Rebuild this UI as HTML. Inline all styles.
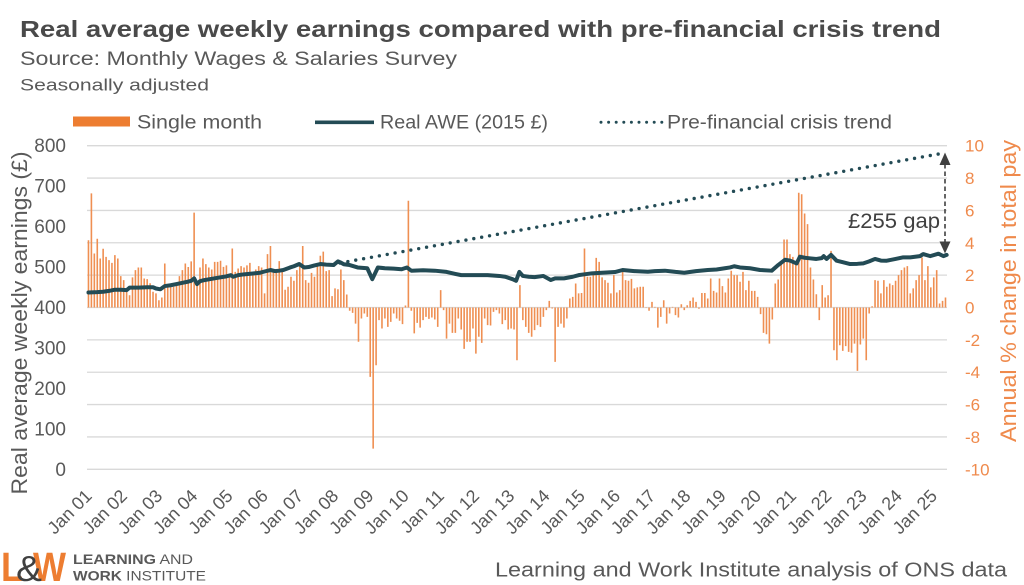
<!DOCTYPE html>
<html><head><meta charset="utf-8"><style>
html,body{margin:0;padding:0;background:#fff;}
svg{display:block;}
text{font-family:"Liberation Sans",sans-serif;}
</style></head><body>
<svg width="1024" height="585" viewBox="0 0 1024 585" xmlns="http://www.w3.org/2000/svg">
<rect width="1024" height="585" fill="#fff"/>
<!-- Titles -->
<text x="20" y="37" font-size="23" font-weight="bold" fill="#4a4a4a" textLength="921" lengthAdjust="spacingAndGlyphs">Real average weekly earnings compared with pre-financial crisis trend</text>
<text x="20" y="65" font-size="19" fill="#595959" textLength="437" lengthAdjust="spacingAndGlyphs">Source: Monthly Wages &amp; Salaries Survey</text>
<text x="20" y="90.5" font-size="17" fill="#595959" textLength="189" lengthAdjust="spacingAndGlyphs">Seasonally adjusted</text>

<!-- Legend -->
<rect x="73" y="116.5" width="57" height="10" fill="#ED7D31"/>
<text x="137" y="128.5" font-size="19" fill="#595959" textLength="125" lengthAdjust="spacingAndGlyphs">Single month</text>
<line x1="315" y1="122.3" x2="374" y2="122.3" stroke="#234B55" stroke-width="3.6"/>
<text x="380" y="128.5" font-size="19" fill="#595959" textLength="168" lengthAdjust="spacingAndGlyphs">Real AWE (2015 £)</text>
<line x1="601" y1="122.3" x2="662" y2="122.3" stroke="#234B55" stroke-width="3" stroke-dasharray="0 7.6" stroke-linecap="round"/>
<text x="667" y="128.5" font-size="19" fill="#595959" textLength="225" lengthAdjust="spacingAndGlyphs">Pre-financial crisis trend</text>

<!-- Gridlines -->
<g stroke="#D9D9D9" stroke-width="1.3">
<line x1="87" x2="947" y1="145.7" y2="145.7"/>
<line x1="87" x2="947" y1="178.06" y2="178.06"/>
<line x1="87" x2="947" y1="210.42" y2="210.42"/>
<line x1="87" x2="947" y1="242.78" y2="242.78"/>
<line x1="87" x2="947" y1="275.14" y2="275.14"/>
<line x1="87" x2="947" y1="307.5" y2="307.5"/>
<line x1="87" x2="947" y1="339.86" y2="339.86"/>
<line x1="87" x2="947" y1="372.22" y2="372.22"/>
<line x1="87" x2="947" y1="404.58" y2="404.58"/>
<line x1="87" x2="947" y1="436.94" y2="436.94"/>
<line x1="87" x2="947" y1="469.3" y2="469.3"/>
</g>

<!-- Bars -->
<g transform="translate(88.4675,307.5) scale(2.935,-16.18)">
<path fill="none" stroke="#EF8F52" stroke-width="1.6" vector-effect="non-scaling-stroke" d="M0 0V4.16M1 0V7.05M2 0V3.34M3 0V4.25M4 0V3.03M5 0V3.63M6 0V3.13M7 0V2.93M8 0V2.76M9 0V3.24M10 0V3.03M11 0V1.94M12 0V1.69M13 0V1.18M14 0V0.76M15 0V1.86M16 0V2.31M17 0V2.47M18 0V2.47M19 0V1.79M20 0V1.75M21 0V1.5M22 0V0.97M23 0V0.87M24 0V0.45M25 0V0.62M26 0V2.72M27 0V1.24M28 0V1.32M29 0V1.28M30 0V1.48M31 0V1.94M32 0V2.31M33 0V2.72M34 0V2.5M35 0V2.85M36 0V5.86M37 0V1.48M38 0V2.47M39 0V3.03M40 0V2.68M41 0V2.47M42 0V2.35M43 0V2.82M44 0V2.82M45 0V2.89M46 0V2.51M47 0V2.6M48 0V2.1M49 0V3.65M50 0V2.2M51 0V2.41M52 0V2.56M53 0V2.47M54 0V2.6M55 0V2.76M56 0V2.2M57 0V2.35M58 0V2.56M59 0V2.47M60 0V0.87M61 0V3.3M62 0V3.8M63 0V2.35M64 0V2.14M65 0V2.87M66 0V2.31M67 0V1.1M68 0V1.28M69 0V1.9M70 0V1.65M71 0V2.31M72 0V2.72M73 0V3.8M74 0V1.69M75 0V1.53M76 0V2.14M77 0V1.9M78 0V2.6M79 0V3.2M80 0V3.45M81 0V2.25M82 0V2.31M83 0V0.7M84 0V1.18M85 0V1.13M86 0V2.35M87 0V1.69M88 0V0.8M89 0V-0.2M90 0V-0.33M91 0V-1M92 0V-2.12M93 0V-0.68M94 0V-0.37M95 0V-0.58M96 0V-4.29M97 0V-8.72M98 0V-3.57M99 0V-0.78M100 0V-1.3M101 0V-0.68M102 0V-1.2M103 0V-0.89M104 0V-0.37M105 0V-0.68M106 0V-0.82M107 0V-1.03M108 0V0.12M109 0V6.6M110 0V-0.2M111 0V-1.6M112 0V-0.95M113 0V-1.24M114 0V-0.78M115 0V-0.58M116 0V-0.7M117 0V-0.62M118 0V-0.74M119 0V-1.2M120 0V1.07M121 0V-0.16M122 0V-1.92M123 0V-1M124 0V-1.57M125 0V-1.57M126 0V-0.68M127 0V-1.36M128 0V-2.56M129 0V-2.12M130 0V-2.12M131 0V-1.3M132 0V-2.85M133 0V-1.81M134 0V-2.19M135 0V-0.68M136 0V-1.09M137 0V-1.11M138 0V-0.27M139 0V-0.16M140 0V-0.37M141 0V-1.03M142 0V-0.78M143 0V-1.36M144 0V-1.3M145 0V-1.36M146 0V-3.26M147 0V1.38M148 0V-0.78M149 0V-1.2M150 0V-1.57M151 0V-1.81M152 0V-1.4M153 0V-1.09M154 0V-1.2M155 0V-0.58M156 0V-0.16M157 0V0.41M158 0V-0.06M159 0V-3.36M160 0V-1.2M161 0V-1M162 0V-1.24M163 0V-0.68M164 0V0.56M165 0V0.66M166 0V1.48M167 0V0.87M168 0V0.9M169 0V3.65M170 0V1.9M171 0V1.9M172 0V2.1M173 0V3.07M174 0V2.82M175 0V1.86M176 0V1.69M177 0V1.53M178 0V0.87M179 0V2M180 0V0.93M181 0V1.07M182 0V2.27M183 0V1.69M184 0V1.65M185 0V1.77M186 0V1.18M187 0V1.24M188 0V1.28M189 0V1.28M190 0V0.02M191 0V-0.2M192 0V0.35M193 0V0.04M194 0V-1.24M195 0V-0.58M196 0V0.45M197 0V-1M198 0V-0.37M199 0V0.04M200 0V-0.47M201 0V-0.62M202 0V0.2M203 0V-0.16M204 0V0.14M205 0V0.41M206 0V0.62M207 0V0.35M208 0V-0.08M209 0V0.9M210 0V0.9M211 0V0.56M212 0V1.79M213 0V1.03M214 0V0.93M215 0V1.79M216 0V1.32M217 0V0.93M218 0V1.79M219 0V2.27M220 0V2M221 0V2M222 0V1.59M223 0V2.2M224 0V1.07M225 0V1.65M226 0V1.03M227 0V1.03M228 0V0.66M229 0V-0.41M230 0V-1.57M231 0V-1.65M232 0V-2.23M233 0V-0.74M234 0V1.48M235 0V1.73M236 0V2.82M237 0V4.2M238 0V4.2M239 0V3.3M240 0V3.13M241 0V2.82M242 0V7.09M243 0V7M244 0V5.81M245 0V5.15M246 0V2.47M247 0V1.73M248 0V0.82M249 0V-0.78M250 0V1.38M251 0V0.62M252 0V0.76M253 0V3.5M254 0V-2.64M255 0V-3.26M256 0V-2.33M257 0V-2.68M258 0V-2.39M259 0V-2.74M260 0V-2.8M261 0V-2.23M262 0V-3.92M263 0V-2.29M264 0V-1.92M265 0V-3.26M266 0V-0.37M267 0V0.08M268 0V1.69M269 0V1.65M270 0V0.87M271 0V1.69M272 0V1.28M273 0V1.48M274 0V1.38M275 0V1.65M276 0V2M277 0V2.31M278 0V2.47M279 0V2.56M280 0V0.87M281 0V1.18M282 0V1.69M283 0V2M284 0V3.09M285 0V1.69M286 0V2.56M287 0V1.24M288 0V1.86M289 0V2.31M290 0V0.25M291 0V0.41M292 0V0.62"/>
</g>

<!-- Trend dotted line -->
<line x1="340" y1="263" x2="944" y2="153" stroke="#234B55" stroke-width="3.4" stroke-dasharray="0 8" stroke-linecap="round"/>

<!-- Real AWE line -->
<g transform="translate(88.4675,469.3) scale(2.935,-0.4045)">
<polyline fill="none" stroke="#234B55" stroke-width="4" stroke-linejoin="round" stroke-linecap="round" vector-effect="non-scaling-stroke" points="0,437 3,438 5,439 7,441 9,444 11,444 13,443 14,449 17,449 20,450 22,450 23,447 24.5,445 26,453 28,455 30,458 32,461 34,464 35,466 36,472 37,458 38,465 39,467 42,471 45,474.6 47,477 48.5,480 49.3,476 51,480 53,482 56,484 58.5,486 60,489 62,492.7 63.5,490 65,491 66.4,492.7 68.7,499 70,502 71.8,507.5 73.5,499 75,500 77,504 79,507.5 81,506 83.5,505 85,514 86,511 87,507 89,505 91.7,499 95,497 96.7,470 98.6,499 101,497 104,496 106.7,494.5 108.5,499 110,491 114,492 118,491 122,488 125,483 127,480 131,480 136,480 140,478 142,476 144.5,470 145.7,466 146.8,488 148,478 150,476 152,475 155,478 157.5,468 159,472 162,472 165,476 167,480 169,482 171.5,484.5 175,486 179.4,487.7 182,492.7 186,490 190.6,488.5 193,490 196.4,491 200,488 203,486 207,490 211,492.7 214,494 216.8,497 218.6,499 220,502 222,499 225.4,497 228.8,492.7 232.8,491 235,505 237.3,518 239,516 240,513 241.3,509 242.4,525.6 244,523 245.8,521.6 248,520 249.8,522 250.5,527 251.5,520 253,530 254.9,515.7 257,512 259.5,507.5 262,508 264,509 266,514 268,520 270,516 272,515.7 275,520 277.6,524 280,524 283.3,527 284.4,532 286.8,527 289.6,533 291.3,527 292.4,530"/>
</g>

<!-- Gap arrow -->
<line x1="945" y1="164" x2="945" y2="242" stroke="#404040" stroke-width="1.6" stroke-dasharray="4.5 3"/>
<polygon points="945,152.5 939.5,165 950.5,165" fill="#404040"/>
<polygon points="945,253.5 939.5,241.5 950.5,241.5" fill="#404040"/>
<text x="848" y="228" font-size="21" fill="#404040" textLength="92" lengthAdjust="spacingAndGlyphs">£255 gap</text>

<!-- Left axis labels -->
<g font-size="19" fill="#595959" text-anchor="end">
<text x="66" y="152.2">800</text>
<text x="66" y="192.65">700</text>
<text x="66" y="233.1">600</text>
<text x="66" y="273.55">500</text>
<text x="66" y="314">400</text>
<text x="66" y="354.45">300</text>
<text x="66" y="394.9">200</text>
<text x="66" y="435.35">100</text>
<text x="66" y="475.8">0</text>
</g>
<text transform="translate(27,323) rotate(-90)" text-anchor="middle" font-size="22" fill="#595959" textLength="343" lengthAdjust="spacingAndGlyphs">Real average weekly earnings (£)</text>

<!-- Right axis labels -->
<g font-size="17" fill="#EF8A4C">
<text x="965" y="151.7">10</text>
<text x="965" y="184.06">8</text>
<text x="965" y="216.42">6</text>
<text x="965" y="248.78">4</text>
<text x="965" y="281.14">2</text>
<text x="965" y="313.5">0</text>
<text x="965" y="345.86">-2</text>
<text x="965" y="378.22">-4</text>
<text x="965" y="410.58">-6</text>
<text x="965" y="442.94">-8</text>
<text x="965" y="475.3">-10</text>
</g>
<text transform="translate(1016,291) rotate(-90)" text-anchor="middle" font-size="22" fill="#EF8A4C" textLength="302" lengthAdjust="spacingAndGlyphs">Annual % change in total pay</text>

<!-- X axis labels -->
<g font-size="18" fill="#595959" text-anchor="end">
<text transform="translate(92.97,497) rotate(-45)">Jan 01</text>
<text transform="translate(128.19,497) rotate(-45)">Jan 02</text>
<text transform="translate(163.41,497) rotate(-45)">Jan 03</text>
<text transform="translate(198.63,497) rotate(-45)">Jan 04</text>
<text transform="translate(233.85,497) rotate(-45)">Jan 05</text>
<text transform="translate(269.07,497) rotate(-45)">Jan 06</text>
<text transform="translate(304.29,497) rotate(-45)">Jan 07</text>
<text transform="translate(339.51,497) rotate(-45)">Jan 08</text>
<text transform="translate(374.73,497) rotate(-45)">Jan 09</text>
<text transform="translate(409.95,497) rotate(-45)">Jan 10</text>
<text transform="translate(445.17,497) rotate(-45)">Jan 11</text>
<text transform="translate(480.39,497) rotate(-45)">Jan 12</text>
<text transform="translate(515.61,497) rotate(-45)">Jan 13</text>
<text transform="translate(550.83,497) rotate(-45)">Jan 14</text>
<text transform="translate(586.05,497) rotate(-45)">Jan 15</text>
<text transform="translate(621.27,497) rotate(-45)">Jan 16</text>
<text transform="translate(656.49,497) rotate(-45)">Jan 17</text>
<text transform="translate(691.71,497) rotate(-45)">Jan 18</text>
<text transform="translate(726.93,497) rotate(-45)">Jan 19</text>
<text transform="translate(762.15,497) rotate(-45)">Jan 20</text>
<text transform="translate(797.37,497) rotate(-45)">Jan 21</text>
<text transform="translate(832.59,497) rotate(-45)">Jan 22</text>
<text transform="translate(867.81,497) rotate(-45)">Jan 23</text>
<text transform="translate(903.03,497) rotate(-45)">Jan 24</text>
<text transform="translate(938.25,497) rotate(-45)">Jan 25</text>
</g>

<!-- Logo -->
<text x="1" y="581" font-size="41" font-weight="bold" fill="#ED7D31" textLength="22" lengthAdjust="spacingAndGlyphs">L</text>
<text x="33" y="581" font-size="41" font-weight="bold" fill="#ED7D31" textLength="33" lengthAdjust="spacingAndGlyphs">W</text>
<text x="16" y="581" font-size="36" fill="#404040" textLength="26" lengthAdjust="spacingAndGlyphs">&amp;</text>
<text x="73" y="564" font-size="14" fill="#595959" textLength="120" lengthAdjust="spacingAndGlyphs"><tspan font-weight="bold">LEARNING</tspan> AND</text>
<text x="73" y="580.5" font-size="14" fill="#595959" textLength="133" lengthAdjust="spacingAndGlyphs"><tspan font-weight="bold">WORK</tspan> INSTITUTE</text>

<!-- Footer -->
<text x="495" y="576.5" font-size="20" fill="#595959" textLength="512" lengthAdjust="spacingAndGlyphs">Learning and Work Institute analysis of ONS data</text>
</svg>
</body></html>
